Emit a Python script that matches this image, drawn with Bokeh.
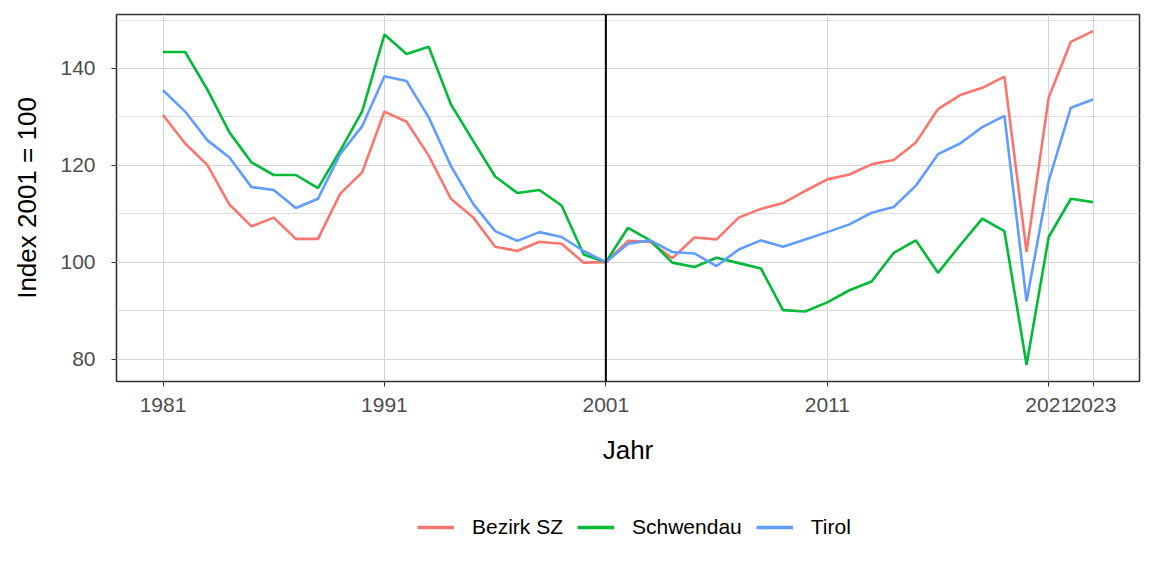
from bokeh.plotting import figure
from bokeh.models import (Range1d, FixedTicker, SingleIntervalTicker, Span,
                          Legend, LegendItem)
from bokeh.layouts import column
from bokeh.embed import file_html
from bokeh.resources import INLINE

years = list(range(1981, 2024))

bezirk_sz = [130.4, 124.5, 120.1, 111.9, 107.4, 109.2, 104.8, 104.8, 114.1, 118.6,
             131.1, 129.0, 122.0, 113.1, 109.3, 103.2, 102.3, 104.2, 103.8, 99.9,
             100.0, 104.4, 104.2, 100.8, 105.1, 104.7, 109.2, 111.0, 112.2, 114.7,
             117.1, 118.1, 120.2, 121.1, 124.7, 131.6, 134.5, 136.0, 138.3, 102.1,
             134.0, 145.5, 147.7]

schwendau = [143.4, 143.4, 135.7, 126.8, 120.6, 118.0, 118.0, 115.3, 123.0, 131.2,
             147.0, 143.0, 144.5, 132.6, 125.1, 117.7, 114.3, 114.9, 111.7, 101.6,
             100.0, 107.1, 104.5, 99.9, 99.0, 100.9, 99.8, 98.7, 90.1, 89.8,
             91.7, 94.2, 96.0, 101.9, 104.5, 97.8, 103.5, 109.0, 106.4, 78.8,
             105.2, 113.1, 112.4]

tirol = [135.5, 131.1, 125.2, 121.6, 115.5, 114.9, 111.2, 113.1, 122.3, 128.1,
         138.4, 137.4, 129.9, 119.9, 112.1, 106.4, 104.4, 106.2, 105.2, 102.3,
         100.0, 103.8, 104.5, 102.1, 101.8, 99.2, 102.6, 104.5, 103.2, 104.7,
         106.2, 107.8, 110.2, 111.4, 115.8, 122.3, 124.5, 127.9, 130.2, 91.9,
         116.8, 131.9, 133.6]

series_names = ["Bezirk SZ", "Schwendau", "Tirol"]
series_colors = ["#F8766D", "#00BA38", "#619CFF"]
x_ticks = [1981, 1991, 2001, 2011, 2021, 2023]
ref_year = 2001

FONT = "Liberation Sans"

xmin, xmax = min(years), max(years)
xpad = (xmax - xmin) * 0.05
allv = bezirk_sz + schwendau + tirol
ymin, ymax = min(allv), max(allv)
ypad = (ymax - ymin) * 0.05

p = figure(width=1152, height=476, output_backend="svg", toolbar_location=None,
           x_range=Range1d(xmin - xpad, xmax + xpad),
           y_range=Range1d(ymin - ypad, ymax + ypad),
           min_border_left=116, min_border_right=13,
           min_border_top=14, min_border_bottom=95)

p.background_fill_color = "white"
p.border_fill_color = "white"
p.outline_line_color = "#333333"
p.outline_line_width = 1.6

# grids
p.xgrid.ticker = FixedTicker(ticks=x_ticks)
p.xgrid.grid_line_color = "#D4D4D4"
p.xgrid.grid_line_width = 1
yt = SingleIntervalTicker(interval=20, num_minor_ticks=2)
p.yaxis.ticker = yt
p.ygrid.ticker = yt
p.ygrid.grid_line_color = "#D4D4D4"
p.ygrid.grid_line_width = 1
p.ygrid.minor_grid_line_color = "#D4D4D4"
p.ygrid.minor_grid_line_width = 0.8

p.xaxis.ticker = FixedTicker(ticks=x_ticks, minor_ticks=[])

for ax in (p.xaxis[0], p.yaxis[0]):
    ax.axis_line_color = None
    ax.major_tick_line_color = "#333333"
    ax.major_tick_line_width = 1
    ax.major_tick_in = 0
    ax.major_tick_out = 5
    ax.minor_tick_line_color = None
    ax.major_label_text_font = FONT
    ax.major_label_text_font_size = "21px"
    ax.major_label_text_color = "#4D4D4D"
    ax.axis_label_text_font = FONT
    ax.axis_label_text_font_size = "26px"
    ax.axis_label_text_font_style = "normal"
    ax.axis_label_text_color = "black"

p.xaxis.axis_label = "Jahr"
p.yaxis.axis_label = "Index 2001 = 100"
p.xaxis.major_label_standoff = 11
p.yaxis.major_label_standoff = 16
p.xaxis.axis_label_standoff = 20
p.yaxis.axis_label_standoff = 15

for name, vals, col in zip(series_names, [bezirk_sz, schwendau, tirol], series_colors):
    p.line(years, vals, line_color=col, line_width=2.6)

p.add_layout(Span(location=ref_year, dimension="height", line_color="black",
                  line_width=2))

# legend strip below the chart (its frame is aligned with the chart's frame)
lf = figure(width=1152, height=100, output_backend="svg", toolbar_location=None,
            x_range=Range1d(0, 1), y_range=Range1d(0, 1),
            x_axis_location=None, y_axis_location=None,
            min_border_left=0, min_border_right=0, min_border_top=0,
            min_border_bottom=0)
lf.grid.visible = False
lf.outline_line_color = None
lf.background_fill_color = "white"
lf.border_fill_color = "white"

nan = float("nan")
items = []
for name, col in zip(series_names, series_colors):
    r = lf.line(x=[nan], y=[nan], line_color=col, line_width=3.5)
    items.append(LegendItem(label=name, renderers=[r]))

legend = Legend(items=items, orientation="horizontal", location=(301, 37),
                glyph_width=37, glyph_height=20, label_standoff=18, spacing=14,
                padding=0, margin=0, border_line_color=None,
                background_fill_alpha=0,
                label_text_font=FONT, label_text_font_size="21px",
                label_text_color="black")
lf.add_layout(legend, "center")

layout = column(p, lf, spacing=0)
open("out.html", "w").write(file_html(layout, INLINE))
